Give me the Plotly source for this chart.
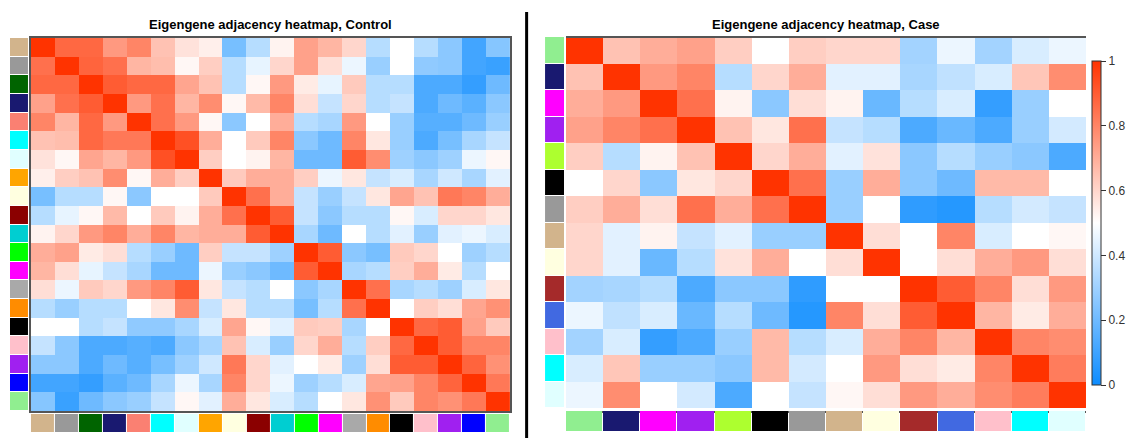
import plotly.graph_objects as go

# ---------------- data ----------------
ctrl_modules = ["tan", "grey60", "darkgreen", "midnightblue", "salmon", "cyan", "lightcyan",
                "orange", "lightyellow", "darkred", "darkturquoise", "green", "magenta",
                "darkgrey", "darkorange", "black", "pink", "purple", "blue", "lightgreen"]
ctrl_colors = ["#D2B48C", "#999999", "#006400", "#191970", "#FA8072", "#00FFFF", "#E0FFFF",
               "#FFA500", "#FFFFE0", "#8B0000", "#00CED1", "#00FF00", "#FF00FF",
               "#A9A9A9", "#FF8C00", "#000000", "#FFC0CB", "#A020F0", "#0000FF", "#90EE90"]

ctrl_adj = [
    [1.00, 0.87, 0.87, 0.75, 0.80, 0.65, 0.57, 0.54, 0.22, 0.35, 0.53, 0.73, 0.68, 0.60, 0.35, 0.50, 0.35, 0.26, 0.11, 0.25],
    [0.85, 1.00, 0.88, 0.85, 0.68, 0.66, 0.52, 0.62, 0.35, 0.45, 0.60, 0.73, 0.58, 0.46, 0.29, 0.50, 0.27, 0.26, 0.11, 0.09],
    [0.87, 0.87, 1.00, 0.90, 0.87, 0.87, 0.72, 0.65, 0.35, 0.52, 0.75, 0.55, 0.45, 0.63, 0.35, 0.35, 0.13, 0.13, 0.08, 0.20],
    [0.73, 0.85, 0.90, 1.00, 0.75, 0.85, 0.68, 0.78, 0.52, 0.67, 0.80, 0.58, 0.38, 0.60, 0.35, 0.38, 0.13, 0.20, 0.16, 0.26],
    [0.80, 0.68, 0.87, 0.75, 1.00, 0.85, 0.75, 0.52, 0.26, 0.50, 0.70, 0.35, 0.32, 0.75, 0.50, 0.29, 0.15, 0.15, 0.20, 0.29],
    [0.65, 0.66, 0.87, 0.83, 0.83, 1.00, 0.93, 0.70, 0.50, 0.63, 0.80, 0.26, 0.20, 0.80, 0.56, 0.29, 0.13, 0.22, 0.32, 0.38],
    [0.57, 0.52, 0.72, 0.68, 0.75, 0.93, 1.00, 0.62, 0.50, 0.53, 0.68, 0.20, 0.20, 0.90, 0.78, 0.30, 0.26, 0.30, 0.46, 0.52],
    [0.54, 0.62, 0.65, 0.78, 0.52, 0.70, 0.62, 1.00, 0.63, 0.70, 0.70, 0.62, 0.46, 0.56, 0.38, 0.42, 0.32, 0.40, 0.32, 0.44],
    [0.22, 0.35, 0.35, 0.52, 0.26, 0.50, 0.50, 0.63, 1.00, 0.85, 0.70, 0.38, 0.29, 0.38, 0.56, 0.72, 0.65, 0.83, 0.80, 0.70],
    [0.35, 0.45, 0.52, 0.67, 0.50, 0.63, 0.53, 0.70, 0.85, 1.00, 0.90, 0.38, 0.26, 0.35, 0.35, 0.52, 0.42, 0.60, 0.60, 0.56],
    [0.53, 0.60, 0.75, 0.80, 0.70, 0.80, 0.68, 0.70, 0.70, 0.90, 1.00, 0.32, 0.20, 0.50, 0.35, 0.44, 0.29, 0.44, 0.46, 0.42],
    [0.70, 0.73, 0.55, 0.58, 0.35, 0.29, 0.20, 0.62, 0.38, 0.38, 0.30, 1.00, 0.90, 0.26, 0.22, 0.63, 0.60, 0.50, 0.30, 0.35],
    [0.68, 0.58, 0.45, 0.38, 0.32, 0.20, 0.20, 0.46, 0.29, 0.26, 0.20, 0.90, 1.00, 0.32, 0.35, 0.62, 0.70, 0.55, 0.35, 0.50],
    [0.58, 0.46, 0.63, 0.60, 0.75, 0.80, 0.90, 0.56, 0.38, 0.35, 0.50, 0.26, 0.32, 1.00, 0.85, 0.32, 0.35, 0.30, 0.42, 0.56],
    [0.35, 0.29, 0.35, 0.35, 0.50, 0.56, 0.78, 0.38, 0.56, 0.35, 0.35, 0.22, 0.35, 0.85, 1.00, 0.50, 0.62, 0.58, 0.72, 0.77],
    [0.50, 0.50, 0.35, 0.38, 0.27, 0.27, 0.32, 0.42, 0.72, 0.52, 0.44, 0.63, 0.62, 0.32, 0.50, 1.00, 0.87, 0.90, 0.73, 0.63],
    [0.38, 0.26, 0.13, 0.13, 0.15, 0.13, 0.26, 0.32, 0.65, 0.42, 0.29, 0.60, 0.70, 0.35, 0.62, 0.87, 1.00, 0.90, 0.80, 0.80],
    [0.26, 0.26, 0.13, 0.20, 0.15, 0.22, 0.30, 0.40, 0.83, 0.60, 0.44, 0.50, 0.55, 0.30, 0.58, 0.90, 0.90, 1.00, 0.88, 0.77],
    [0.11, 0.11, 0.08, 0.16, 0.20, 0.32, 0.46, 0.32, 0.80, 0.60, 0.46, 0.30, 0.35, 0.42, 0.72, 0.73, 0.80, 0.88, 1.00, 0.83],
    [0.25, 0.09, 0.20, 0.26, 0.29, 0.38, 0.52, 0.44, 0.70, 0.56, 0.42, 0.35, 0.50, 0.56, 0.77, 0.63, 0.80, 0.77, 0.83, 1.00],
]

case_modules = ["lightgreen", "midnightblue", "magenta", "purple", "greenyellow", "black", "grey60",
                "tan", "lightyellow", "brown", "royalblue", "pink", "cyan", "lightcyan"]
case_colors = ["#90EE90", "#191970", "#FF00FF", "#A020F0", "#ADFF2F", "#000000", "#999999",
               "#D2B48C", "#FFFFE0", "#A52A2A", "#4169E1", "#FFC0CB", "#00FFFF", "#E0FFFF"]

case_adj = [
    [1.00, 0.65, 0.70, 0.73, 0.62, 0.50, 0.62, 0.60, 0.60, 0.31, 0.46, 0.31, 0.42, 0.46],
    [0.65, 1.00, 0.75, 0.80, 0.35, 0.60, 0.70, 0.44, 0.44, 0.32, 0.37, 0.42, 0.64, 0.78],
    [0.70, 0.75, 1.00, 0.85, 0.53, 0.26, 0.58, 0.53, 0.19, 0.35, 0.42, 0.08, 0.29, 0.50],
    [0.73, 0.80, 0.85, 1.00, 0.65, 0.56, 0.85, 0.38, 0.35, 0.13, 0.19, 0.13, 0.29, 0.41],
    [0.62, 0.35, 0.53, 0.65, 1.00, 0.60, 0.70, 0.44, 0.57, 0.26, 0.35, 0.29, 0.26, 0.13],
    [0.50, 0.60, 0.26, 0.56, 0.60, 1.00, 0.85, 0.29, 0.70, 0.26, 0.20, 0.67, 0.67, 0.50],
    [0.62, 0.70, 0.58, 0.85, 0.70, 0.85, 1.00, 0.29, 0.50, 0.07, 0.05, 0.35, 0.41, 0.38],
    [0.60, 0.44, 0.53, 0.38, 0.44, 0.29, 0.29, 1.00, 0.58, 0.50, 0.80, 0.42, 0.50, 0.52],
    [0.60, 0.44, 0.19, 0.35, 0.57, 0.70, 0.50, 0.58, 1.00, 0.50, 0.58, 0.70, 0.75, 0.58],
    [0.31, 0.32, 0.35, 0.13, 0.26, 0.26, 0.07, 0.50, 0.50, 1.00, 0.90, 0.80, 0.58, 0.75],
    [0.46, 0.37, 0.42, 0.19, 0.35, 0.20, 0.05, 0.80, 0.58, 0.90, 1.00, 0.68, 0.55, 0.70],
    [0.31, 0.42, 0.08, 0.13, 0.29, 0.67, 0.35, 0.42, 0.70, 0.80, 0.68, 1.00, 0.80, 0.78],
    [0.42, 0.64, 0.29, 0.29, 0.26, 0.67, 0.41, 0.50, 0.75, 0.58, 0.55, 0.80, 1.00, 0.82],
    [0.46, 0.78, 0.50, 0.41, 0.13, 0.50, 0.38, 0.52, 0.58, 0.75, 0.70, 0.78, 0.82, 1.00],
]

colorbar_ticks = [0, 0.2, 0.4, 0.6, 0.8, 1]
colorbar_ticktext = ["0", "0.2", "0.4", "0.6", "0.8", "1"]

# ---------------- layout helpers ----------------
W, H = 1127, 438


def dx(a, b):
    return [a / W, b / W]


def dy(top, bottom):
    return [1 - bottom / H, 1 - top / H]


def discrete_scale(cols):
    n = len(cols)
    sc = []
    for i, c in enumerate(cols):
        sc.append([i / n, c])
        sc.append([(i + 1) / n, c])
    return sc


def ax_ids(i):
    return ("x" if i == 1 else f"x{i}"), ("y" if i == 1 else f"y{i}")


def ax_key(prefix, i):
    return f"{prefix}axis" if i == 1 else f"{prefix}axis{i}"


fig = go.Figure()

panels = [
    # adj, modules, colors, heat x(px), heat y(px), side strip x, bottom strip y, first axis id
    (ctrl_adj, ctrl_modules, ctrl_colors, (31, 512), (38, 411), (10, 28), (414, 432), 1),
    (case_adj, case_modules, case_colors, (568, 1090), (37, 408), (547, 566), (411, 431), 4),
]

layout_axes = {}
common = dict(showticklabels=False, showgrid=False, zeroline=False, ticks="", fixedrange=True)
frame = dict(showline=True, mirror=True, linecolor="#555555", linewidth=1.5)

for adj, mods, cols, hx, hy, sx, by, k in panels:
    n = len(mods)
    idx = list(range(n))
    a_main, a_side, a_bot = k, k + 1, k + 2
    xm, ym = ax_ids(a_main)
    xs, ys = ax_ids(a_side)
    xb, yb = ax_ids(a_bot)

    fig.add_trace(go.Heatmap(z=adj, x=idx, y=idx, coloraxis="coloraxis",
                             xaxis=xm, yaxis=ym, text=[[f"{r} / {c}" for c in mods] for r in mods],
                             hovertemplate="%{text}: %{z}<extra></extra>"))
    fig.add_trace(go.Heatmap(z=[[i + 0.5] for i in idx], x=[0], y=idx,
                             colorscale=discrete_scale(cols), zmin=0, zmax=n, showscale=False,
                             ygap=1, xaxis=xs, yaxis=ys, text=[[m] for m in mods],
                             hovertemplate="%{text}<extra></extra>"))
    fig.add_trace(go.Heatmap(z=[[i + 0.5 for i in idx]], x=idx, y=[0],
                             colorscale=discrete_scale(cols), zmin=0, zmax=n, showscale=False,
                             xgap=1, xaxis=xb, yaxis=yb, text=[mods],
                             hovertemplate="%{text}<extra></extra>"))

    layout_axes[ax_key("x", a_main)] = dict(domain=dx(*hx), range=[-0.5, n - 0.5], **common, **frame)
    layout_axes[ax_key("y", a_main)] = dict(domain=dy(*hy), range=[n - 0.5, -0.5], **common, **frame)
    layout_axes[ax_key("x", a_side)] = dict(domain=dx(*sx), range=[-0.5, 0.5], **common)
    layout_axes[ax_key("y", a_side)] = dict(domain=dy(*hy), range=[n - 0.5, -0.5], **common)
    layout_axes[ax_key("x", a_bot)] = dict(domain=dx(*hx), range=[-0.5, n - 0.5], **common)
    layout_axes[ax_key("y", a_bot)] = dict(domain=dy(*by), range=[-0.5, 0.5], **common)

fig.update_layout(**layout_axes)

fig.update_layout(
    width=W, height=H,
    margin=dict(l=0, r=0, t=0, b=0),
    paper_bgcolor="white", plot_bgcolor="white",
    font=dict(family="Liberation Sans, Arial, sans-serif", color="#333333"),
    coloraxis=dict(
        cmin=0, cmax=1,
        colorscale=[[0, "rgb(13,140,255)"], [0.5, "rgb(255,255,255)"], [1, "rgb(255,51,0)"]],
        colorbar=dict(
            x=1096 / W, xanchor="left", xpad=0, ypad=0,
            y=1 - 223 / H, yanchor="middle", len=324 / H, lenmode="fraction",
            thickness=9, outlinewidth=1, outlinecolor="#333333",
            tickvals=colorbar_ticks, ticktext=colorbar_ticktext,
            ticks="outside", ticklen=5, tickcolor="#333333",
            tickfont=dict(size=12, color="#333333"),
        ),
    ),
    annotations=[
        dict(text="<b>Eigengene adjacency heatmap, Control</b>", x=(31 + 512) / 2 / W, y=1 - 24 / H,
             xref="paper", yref="paper", xanchor="center", yanchor="middle", showarrow=False,
             font=dict(size=13, color="#000000")),
        dict(text="<b>Eigengene adjacency heatmap, Case</b>", x=(568 + 1090) / 2 / W, y=1 - 24 / H,
             xref="paper", yref="paper", xanchor="center", yanchor="middle", showarrow=False,
             font=dict(size=13, color="#000000")),
    ],
    shapes=[
        dict(type="line", xref="paper", yref="paper", x0=528.5 / W, x1=528.5 / W,
             y0=0, y1=1 - 12 / H, line=dict(color="black", width=3)),
    ],
)

fig.write_html("out.html", config={"displayModeBar": False},
               post_script="document.body.style.margin='0';")
